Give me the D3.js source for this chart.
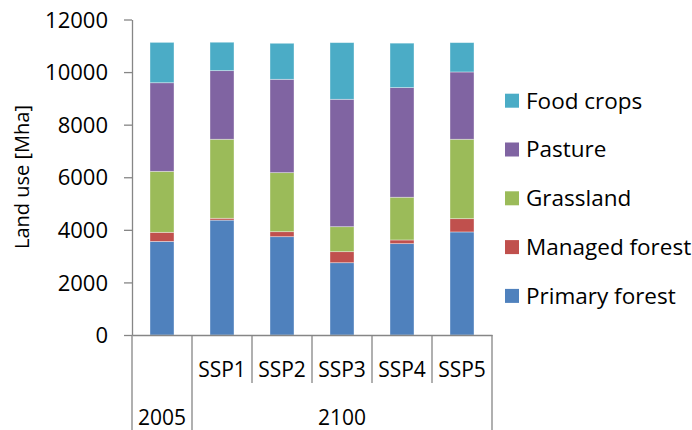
<!DOCTYPE html>
<html><head><meta charset="utf-8">
<script src="https://cdn.jsdelivr.net/npm/d3@7/dist/d3.min.js"></script>
<style>body{margin:0;background:#fff}svg{display:block}text{font-family:"Open Sans",Lato,sans-serif;fill:#000}</style>
</head><body><svg id="c" width="692" height="430"></svg>
<script>
const categories = ["2005","SSP1","SSP2","SSP3","SSP4","SSP5"];
const innerLabels = ["","SSP1","SSP2","SSP3","SSP4","SSP5"];
const groups = [{label:"2005", from:"2005", to:"2005"},{label:"2100", from:"SSP1", to:"SSP5"}];
const seriesNames = ["Primary forest","Managed forest","Grassland","Pasture","Food crops"];
const primaryForest = [3560,4370,3740,2750,3475,3920];
const managedForest = [345,70,190,420,140,505];
const grassland = [2320,3005,2245,950,1625,3020];
const pasture = [3370,2610,3550,4845,4170,2560];
const foodCrops = [1535,1080,1370,2155,1690,1115];
const colors = ["#4F81BD","#C0504D","#9BBB59","#8064A2","#4BACC6"];
const yTicks = [0,2000,4000,6000,8000,10000,12000];

const svg = d3.select("#c");
const rows = categories.map((c,i)=>({cat:c,"Primary forest":primaryForest[i],"Managed forest":managedForest[i],"Grassland":grassland[i],"Pasture":pasture[i],"Food crops":foodCrops[i]}));
const stack = d3.stack().keys(seriesNames)(rows);

const x = d3.scaleBand().domain(categories).range([132,492]).padding(0);
const y = d3.scaleLinear().domain([0,12000]).range([335,19.5]);
const color = d3.scaleOrdinal().domain(seriesNames).range(colors);
const axisColor = "#868686";

// bars
svg.append("g").selectAll("g").data(stack).join("g")
  .attr("fill", d=>color(d.key))
  .selectAll("rect").data(d=>d).join("rect")
  .attr("x", d=>x(d.data.cat)+x.bandwidth()*0.3)
  .attr("width", x.bandwidth()*0.4)
  .attr("y", d=>y(d[1]))
  .attr("height", d=>y(d[0])-y(d[1]))
  .attr("stroke","rgba(255,255,255,0.45)").attr("stroke-width",0.8);

// y axis
const ya = svg.append("g").attr("transform","translate(132,0)")
  .call(d3.axisLeft(y).tickValues(yTicks).tickFormat(d3.format("d")).tickSize(8).tickPadding(16).tickSizeOuter(0));
ya.select(".domain").attr("stroke",axisColor).attr("stroke-width",1.3);
ya.selectAll(".tick line").attr("stroke",axisColor).attr("stroke-width",1.3);
ya.selectAll(".tick text").attr("font-size",22).attr("font-family","'Open Sans',sans-serif").attr("fill","#000").attr("dy","0.35em");

// x axis (multi-level)
const xa = svg.append("g").attr("transform","translate(0,335)")
  .call(d3.axisBottom(x).tickFormat((d,i)=>innerLabels[i]).tickSize(0).tickPadding(27).tickSizeOuter(0));
xa.select(".domain").attr("stroke",axisColor).attr("stroke-width",1.3);
xa.selectAll(".tick text").attr("font-size",21).attr("font-family","'Open Sans',sans-serif").attr("fill","#000");
// dividers
const bounds = categories.map(c=>x(c)).concat([x.range()[1]]);
const groupEdges = new Set();
groups.forEach(g=>{groupEdges.add(x(g.from)); groupEdges.add(x(g.to)+x.bandwidth());});
svg.append("g").selectAll("line").data(bounds).join("line")
  .attr("x1",d=>d).attr("x2",d=>d).attr("y1",335)
  .attr("y2",d=>groupEdges.has(d)?430:383)
  .attr("stroke",axisColor).attr("stroke-width",1.3);
svg.append("g").selectAll("text").data(groups).join("text")
  .attr("x",g=>(x(g.from)+x(g.to)+x.bandwidth())/2)
  .attr("y",418).attr("dy","0.35em").attr("text-anchor","middle")
  .attr("font-size",21).text(g=>g.label);

// y title
svg.append("text").attr("transform","translate(22,177) rotate(-90)")
  .attr("text-anchor","middle").attr("dy","0.35em").attr("font-size",20).text("Land use [Mha]");

// legend
const legendOrder = seriesNames.slice().reverse();
const lg = svg.append("g").selectAll("g").data(legendOrder).join("g")
  .attr("transform",(d,i)=>`translate(505,${100.7+i*48.8})`);
lg.append("rect").attr("x",0).attr("y",-7).attr("width",14).attr("height",14).attr("fill",d=>color(d));
lg.append("text").attr("x",21).attr("dy","0.35em").attr("font-size",22.5).text(d=>d);
</script></body></html>
